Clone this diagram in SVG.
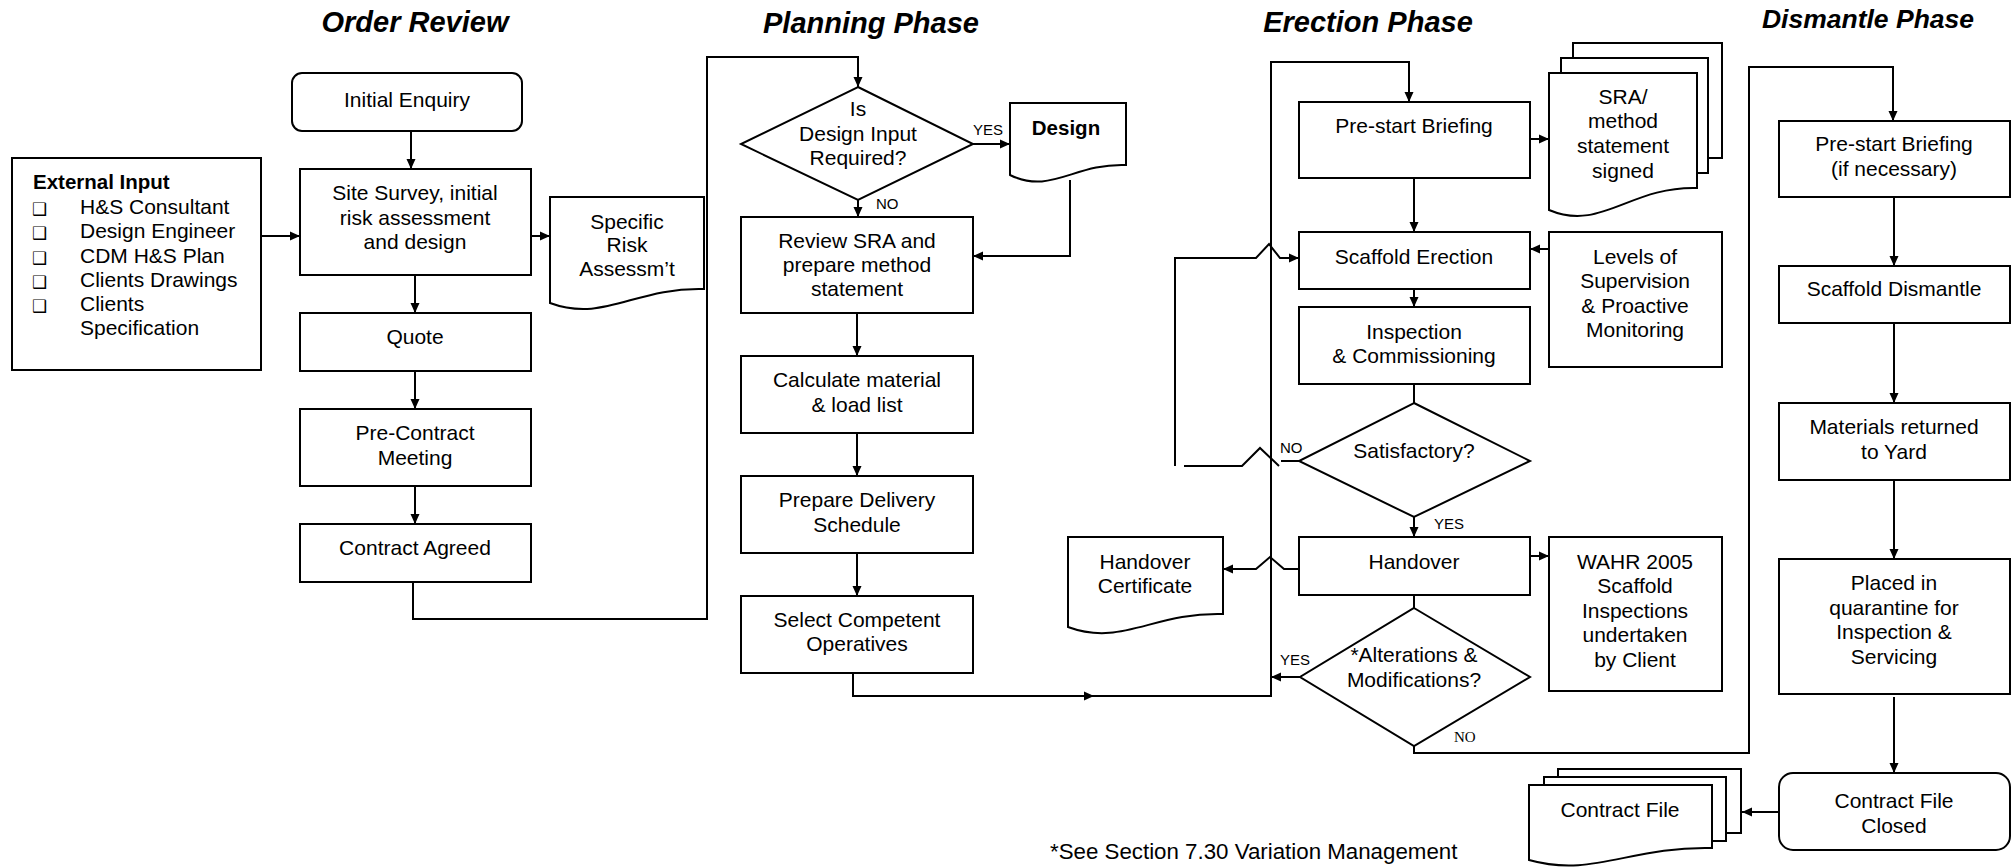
<svg xmlns="http://www.w3.org/2000/svg" width="2015" height="867" viewBox="0 0 2015 867">
<style>
.box{fill:#fff;stroke:#000;stroke-width:2}
.ln{fill:none;stroke:#000;stroke-width:2}
.t{font-family:"Liberation Sans",Arial,sans-serif;font-size:21px;text-anchor:middle;fill:#000}
.title{font-weight:bold;font-style:italic;font-size:29px}
.lbl{font-size:15px;text-anchor:start}
.ls{text-anchor:start}
.cb{font-family:"DejaVu Sans",sans-serif;font-size:17px;fill:#000}
</style>
<defs>
<marker id="ah" markerWidth="10" markerHeight="10" refX="10" refY="5" orient="auto" markerUnits="userSpaceOnUse"><path d="M0,0.5 L10,5 L0,9.5 Z" fill="#000"/></marker>
</defs>
<rect width="2015" height="867" fill="#fff"/>
<g id="titles">
<text class="t title" x="415" y="32">Order Review</text>
<text class="t title" x="871" y="33">Planning Phase</text>
<text class="t title" x="1368" y="32">Erection Phase</text>
<text class="t title" x="1868" y="28" style="font-size:26.5px">Dismantle Phase</text>
</g>
<g id="connectors">
<path class="ln" d="M262,236 H300" marker-end="url(#ah)"/>
<path class="ln" d="M411,131 V169" marker-end="url(#ah)"/>
<path class="ln" d="M531,236 H550" marker-end="url(#ah)"/>
<path class="ln" d="M415,275 V313" marker-end="url(#ah)"/>
<path class="ln" d="M415,371 V409" marker-end="url(#ah)"/>
<path class="ln" d="M415,486 V524" marker-end="url(#ah)"/>
<path class="ln" d="M413,582 V619 H707 V57 H858 V87" marker-end="url(#ah)"/>
<path class="ln" d="M973,144 H1010" marker-end="url(#ah)"/>
<path class="ln" d="M858,200 V217" marker-end="url(#ah)"/>
<path class="ln" d="M1070,180 V256 H973" marker-end="url(#ah)"/>
<path class="ln" d="M857,313 V356" marker-end="url(#ah)"/>
<path class="ln" d="M857,433 V476" marker-end="url(#ah)"/>
<path class="ln" d="M857,553 V596" marker-end="url(#ah)"/>
<path class="ln" d="M853,673 V696 H1271 V62 H1409 V102" marker-end="url(#ah)"/>
<path d="M1084,691.5 L1094,696 L1084,700.5 Z" fill="#000"/>
<path class="ln" d="M1530,139 H1549" marker-end="url(#ah)"/>
<path class="ln" d="M1414,178 V232" marker-end="url(#ah)"/>
<path class="ln" d="M1549,249 H1530" marker-end="url(#ah)"/>
<path class="ln" d="M1299,461 H1281"/>
<path class="ln" d="M1279,466 L1260,448 L1242,466 H1184"/>
<path class="ln" d="M1175,466 V258 H1256 L1269,244 L1280,258 H1299" marker-end="url(#ah)"/>
<path class="ln" d="M1414,289 V307" marker-end="url(#ah)"/>
<path class="ln" d="M1414,384 V403"/>
<path class="ln" d="M1414,517 V537" marker-end="url(#ah)"/>
<path class="ln" d="M1299,569 H1284 L1270,557 L1256,569 H1223" marker-end="url(#ah)"/>
<path class="ln" d="M1530,556 H1549" marker-end="url(#ah)"/>
<path class="ln" d="M1414,595 V608"/>
<path class="ln" d="M1300,677 H1271" marker-end="url(#ah)"/>
<path class="ln" d="M1414,746 V753 H1749 V67 H1893 V121" marker-end="url(#ah)"/>
<path class="ln" d="M1894,197 V266" marker-end="url(#ah)"/>
<path class="ln" d="M1894,323 V403" marker-end="url(#ah)"/>
<path class="ln" d="M1894,480 V559" marker-end="url(#ah)"/>
<path class="ln" d="M1894,697 V773" marker-end="url(#ah)"/>
<path class="ln" d="M1779,812 H1742" marker-end="url(#ah)"/>
<text class="t lbl" x="973" y="135">YES</text>
<text class="t lbl" x="876" y="209">NO</text>
<text class="t lbl" x="1280" y="453">NO</text>
<text class="t lbl" x="1434" y="529">YES</text>
<text class="t lbl" x="1280" y="665">YES</text>
<text x="1454" y="742" style="font-family:'Liberation Serif','Times New Roman',serif;font-size:15px">NO</text>
</g>
<g id="n-external">
<rect class="box" x="12" y="158" width="249" height="212"/>
<text class="t ls" x="33" y="189" style="font-weight:bold;font-size:20.5px">External Input</text>
<text class="cb" x="32" y="215">❑</text><text class="t ls" x="80" y="214">H&amp;S Consultant</text>
<text class="cb" x="32" y="239">❑</text><text class="t ls" x="80" y="238">Design Engineer</text>
<text class="cb" x="32" y="264">❑</text><text class="t ls" x="80" y="263">CDM H&amp;S Plan</text>
<text class="cb" x="32" y="288">❑</text><text class="t ls" x="80" y="287">Clients Drawings</text>
<text class="cb" x="32" y="312">❑</text><text class="t ls" x="80" y="311">Clients</text>
<text class="t ls" x="80" y="335">Specification</text>
</g>
<g id="n-initial"><rect class="box" x="292" y="73" width="230" height="58" rx="10"/><text class="t" x="407" y="107">Initial Enquiry</text></g>
<g id="n-site"><rect class="box" x="300" y="169" width="231" height="106"/>
<text class="t" x="415" y="200">Site Survey, initial</text><text class="t" x="415" y="225">risk assessment</text><text class="t" x="415" y="249">and design</text></g>
<g id="n-specific"><path class="box" d="M550,197 H704 V289 C635,287 604,323 550,303 Z"/>
<text class="t" x="627" y="229">Specific</text><text class="t" x="627" y="252">Risk</text><text class="t" x="627" y="276">Assessm’t</text></g>
<g id="n-quote"><rect class="box" x="300" y="313" width="231" height="58"/><text class="t" x="415" y="344">Quote</text></g>
<g id="n-precontract"><rect class="box" x="300" y="409" width="231" height="77"/><text class="t" x="415" y="440">Pre-Contract</text><text class="t" x="415" y="465">Meeting</text></g>
<g id="n-agreed"><rect class="box" x="300" y="524" width="231" height="58"/><text class="t" x="415" y="555">Contract Agreed</text></g>
<g id="n-designq"><polygon class="box" points="858,87 973,144 858,200 741,144"/>
<text class="t" x="858" y="116">Is</text><text class="t" x="858" y="141">Design Input</text><text class="t" x="858" y="165">Required?</text></g>
<g id="n-design"><path class="box" d="M1010,103 H1126 V165 C1074,163 1051,195 1010,175 Z"/><text class="t" x="1066" y="135" style="font-weight:bold;font-size:20.5px">Design</text></g>
<g id="n-review"><rect class="box" x="741" y="217" width="232" height="96"/>
<text class="t" x="857" y="248">Review SRA and</text><text class="t" x="857" y="272">prepare method</text><text class="t" x="857" y="296">statement</text></g>
<g id="n-calc"><rect class="box" x="741" y="356" width="232" height="77"/><text class="t" x="857" y="387">Calculate material</text><text class="t" x="857" y="412">&amp; load list</text></g>
<g id="n-delivery"><rect class="box" x="741" y="476" width="232" height="77"/><text class="t" x="857" y="507">Prepare Delivery</text><text class="t" x="857" y="532">Schedule</text></g>
<g id="n-select"><rect class="box" x="741" y="596" width="232" height="77"/><text class="t" x="857" y="627">Select Competent</text><text class="t" x="857" y="651">Operatives</text></g>
<g id="n-prestart"><rect class="box" x="1299" y="102" width="231" height="76"/><text class="t" x="1414" y="133">Pre-start Briefing</text></g>
<g id="n-sra">
<rect class="box" x="1573" y="43" width="149" height="115"/>
<rect class="box" x="1561" y="58" width="147" height="115"/>
<path class="box" d="M1549,73 H1697 V188 C1630,186 1601,232 1549,210 Z"/>
<text class="t" x="1623" y="104">SRA/</text><text class="t" x="1623" y="128">method</text><text class="t" x="1623" y="153">statement</text><text class="t" x="1623" y="178">signed</text></g>
<g id="n-erection"><rect class="box" x="1299" y="232" width="231" height="57"/><text class="t" x="1414" y="264">Scaffold Erection</text></g>
<g id="n-levels"><rect class="box" x="1549" y="232" width="173" height="135"/>
<text class="t" x="1635" y="264">Levels of</text><text class="t" x="1635" y="288">Supervision</text><text class="t" x="1635" y="313">&amp; Proactive</text><text class="t" x="1635" y="337">Monitoring</text></g>
<g id="n-inspection"><rect class="box" x="1299" y="307" width="231" height="77"/><text class="t" x="1414" y="339">Inspection</text><text class="t" x="1414" y="363">&amp; Commissioning</text></g>
<g id="n-satisfactory"><polygon class="box" points="1414,403 1530,461 1414,517 1299,461"/><text class="t" x="1414" y="458">Satisfactory?</text></g>
<g id="n-handover"><rect class="box" x="1299" y="537" width="231" height="58"/><text class="t" x="1414" y="569">Handover</text></g>
<g id="n-cert"><path class="box" d="M1068,537 H1223 V614 C1153,612 1122,647 1068,627 Z"/><text class="t" x="1145" y="569">Handover</text><text class="t" x="1145" y="593">Certificate</text></g>
<g id="n-wahr"><rect class="box" x="1549" y="537" width="173" height="154"/>
<text class="t" x="1635" y="569">WAHR 2005</text><text class="t" x="1635" y="593">Scaffold</text><text class="t" x="1635" y="618">Inspections</text><text class="t" x="1635" y="642">undertaken</text><text class="t" x="1635" y="667">by Client</text></g>
<g id="n-alterations"><polygon class="box" points="1414,608 1530,677 1414,746 1300,677"/><text class="t" x="1414" y="662">*Alterations &amp;</text><text class="t" x="1414" y="687">Modifications?</text></g>
<g id="n-dprestart"><rect class="box" x="1779" y="121" width="231" height="76"/><text class="t" x="1894" y="151">Pre-start Briefing</text><text class="t" x="1894" y="176">(if necessary)</text></g>
<g id="n-dismantle"><rect class="box" x="1779" y="266" width="231" height="57"/><text class="t" x="1894" y="296">Scaffold Dismantle</text></g>
<g id="n-materials"><rect class="box" x="1779" y="403" width="231" height="77"/><text class="t" x="1894" y="434">Materials returned</text><text class="t" x="1894" y="459">to Yard</text></g>
<g id="n-placed"><rect class="box" x="1779" y="559" width="231" height="135"/>
<text class="t" x="1894" y="590">Placed in</text><text class="t" x="1894" y="615">quarantine for</text><text class="t" x="1894" y="639">Inspection &amp;</text><text class="t" x="1894" y="664">Servicing</text></g>
<g id="n-closed"><rect class="box" x="1779" y="773" width="231" height="77" rx="14"/><text class="t" x="1894" y="808">Contract File</text><text class="t" x="1894" y="833">Closed</text></g>
<g id="n-contractfile">
<rect class="box" x="1558" y="769" width="183" height="64"/>
<rect class="box" x="1544" y="777" width="182" height="64"/>
<path class="box" d="M1529,785 H1712 V848 C1630,846 1593,878 1529,860 Z"/>
<text class="t" x="1620" y="817">Contract File</text></g>
<g id="footnote"><text class="t ls" x="1050" y="859" style="font-size:22.3px">*See Section 7.30 Variation Management</text></g>
</svg>
